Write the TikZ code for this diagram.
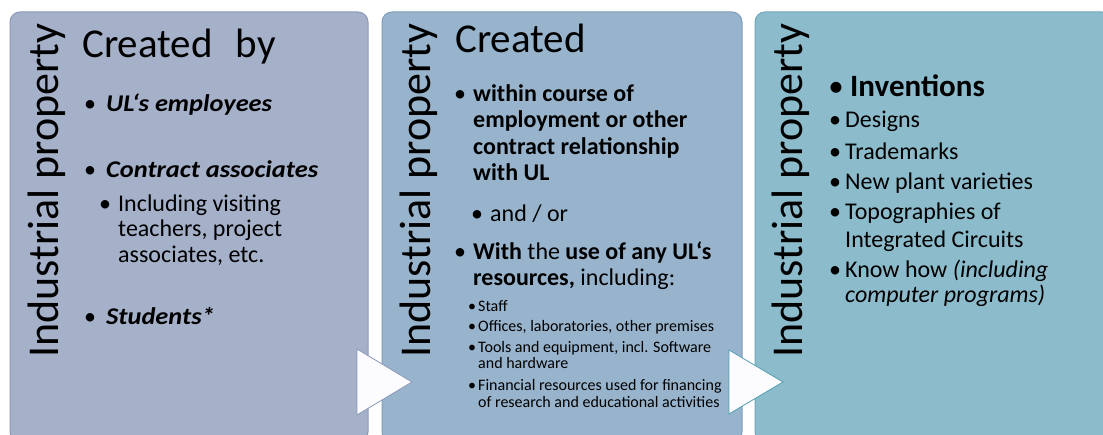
\documentclass[tikz,border=0pt]{standalone}
\usepackage{fontspec}
\setmainfont{Carlito}
\newfontfamily\widefam{Carlito}[FakeStretch=1.1]
\definecolor{fillA}{RGB}{165,176,201}
\definecolor{fillB}{RGB}{152,180,205}
\definecolor{fillC}{RGB}{140,188,204}
\definecolor{edgeA}{RGB}{140,154,184}
\definecolor{edgeB}{RGB}{125,158,188}
\definecolor{edgeC}{RGB}{110,168,188}
\definecolor{triA}{RGB}{140,152,185}
\definecolor{triB}{RGB}{80,158,178}
\definecolor{triFill}{RGB}{252,251,254}
\begin{document}
\begin{tikzpicture}[x=1pt,y=-1pt,
  panel/.style={rounded corners=10pt, line width=1pt},
  arrowtri/.style={fill=triFill, line width=0.8pt, line join=miter},
  side/.style={rotate=90, anchor=base west, inner sep=0pt, font=\fontsize{44}{44}\selectfont},
  ttl/.style={anchor=base west, inner sep=0pt, font=\fontsize{41}{41}\selectfont},
  ln/.style={anchor=base west, inner sep=0pt, font=\fontsize{24}{24}\selectfont},
  bi/.style={anchor=base west, inner sep=0pt, font=\fontsize{24}{24}\widefam\bfseries\itshape},
  sm/.style={anchor=base west, inner sep=0pt, font=\fontsize{16}{16}\selectfont},
  big/.style={anchor=base west, inner sep=0pt, font=\fontsize{31}{31}\selectfont\bfseries},
  dot/.style={anchor=base, inner sep=0pt, font=\fontsize{24}{24}\selectfont},
  sdot/.style={anchor=base, inner sep=0pt, font=\fontsize{16}{16}\selectfont},
  bdot/.style={anchor=base, inner sep=0pt, font=\fontsize{31}{31}\selectfont}
]
\useasboundingbox (0,0) rectangle (1103,435);
\clip (0,0) rectangle (1103,435);
% panels
\draw[panel, fill=fillA, draw=edgeA] (10,12) rectangle (368,442);
\draw[panel, fill=fillB, draw=edgeB] (382,12) rectangle (742,442);
\draw[panel, fill=fillC, draw=edgeC] (755,12) rectangle (1112,442);
% arrows
\draw[arrowtri, draw=triA] (357,349) -- (412,382) -- (357,415) -- cycle;
\draw[arrowtri, draw=triB] (729,350) -- (783,382) -- (729,414) -- cycle;
% side labels
\node[side] (s1) at (58,358) {Industrial property};
\node[side] (s2) at (430,358) {Industrial property};
\node[side] (s3) at (802,358) {Industrial property};
% panel 1
\node[ttl] (t1) at (82,58) {Created\hspace{23pt}by};
\node[dot] (b11) at (90,112) {\textbullet};
\node[bi] (l11) at (106,112) {UL‘s employees};
\node[dot] (b12) at (90,178) {\textbullet};
\node[bi] (l12) at (106,178) {Contract associates};
\node[dot] (b13) at (105,212) {\textbullet};
\node[ln] (l13) at (118,212) {Including visiting};
\node[ln] (l14) at (118,237) {teachers, project};
\node[ln] (l15) at (118,263) {associates, etc.};
\node[dot] (b14) at (90,325) {\textbullet};
\node[bi] (l16) at (106,325) {Students*};
% panel 2
\node[ttl] (t2) at (455,53) {Created};
\node[dot] (b21) at (460,102) {\textbullet};
\node[ln, font=\fontsize{24}{24}\selectfont\bfseries] (l21) at (473,102) {within course of};
\node[ln, font=\fontsize{24}{24}\selectfont\bfseries] (l22) at (473,128) {employment or other};
\node[ln, font=\fontsize{24}{24}\selectfont\bfseries] (l23) at (473,155) {contract relationship};
\node[ln, font=\fontsize{24}{24}\selectfont\bfseries] (l24) at (473,181) {with UL};
\node[dot] (b22) at (477,222) {\textbullet};
\node[ln] (l25) at (490,222) {and / or};
\node[dot] (b23) at (460,260) {\textbullet};
\node[ln] (l26) at (473,260) {\textbf{With} the \textbf{use of any UL‘s}};
\node[ln] (l27) at (473,286) {\textbf{resources,} including:};
\node[sdot] (b24) at (472,312) {\textbullet};
\node[sm] (l28) at (478,312) {Staff};
\node[sdot] (b25) at (472,332) {\textbullet};
\node[sm] (l29) at (478,332) {Offices, laboratories, other premises};
\node[sdot] (b26) at (472,353) {\textbullet};
\node[sm] (l2a) at (478,353) {Tools and equipment, incl. Software};
\node[sm] (l2b) at (478,369) {and hardware};
\node[sdot] (b27) at (472,391) {\textbullet};
\node[sm] (l2c) at (478,391) {Financial resources used for financing};
\node[sm] (l2d) at (478,407) {of research and educational activities};
% panel 3
\node[bdot] (b31) at (836,97) {\textbullet};
\node[big] (l31) at (850,97) {Inventions};
\node[dot] (b32) at (835,128) {\textbullet};
\node[ln] (l32) at (845,128) {Designs};
\node[dot] (b33) at (835,160) {\textbullet};
\node[ln] (l33) at (845,160) {Trademarks};
\node[dot] (b34) at (835,190) {\textbullet};
\node[ln] (l34) at (845,190) {New plant varieties};
\node[dot] (b35) at (835,220) {\textbullet};
\node[ln] (l35) at (845,220) {Topographies of};
\node[ln] (l36) at (845,248) {Integrated Circuits};
\node[dot] (b36) at (835,278) {\textbullet};
\node[ln] (l37) at (845,278) {Know how \textit{(including}};
\node[ln] (l38) at (845,303) {\textit{computer programs)}};
\end{tikzpicture}
\end{document}
